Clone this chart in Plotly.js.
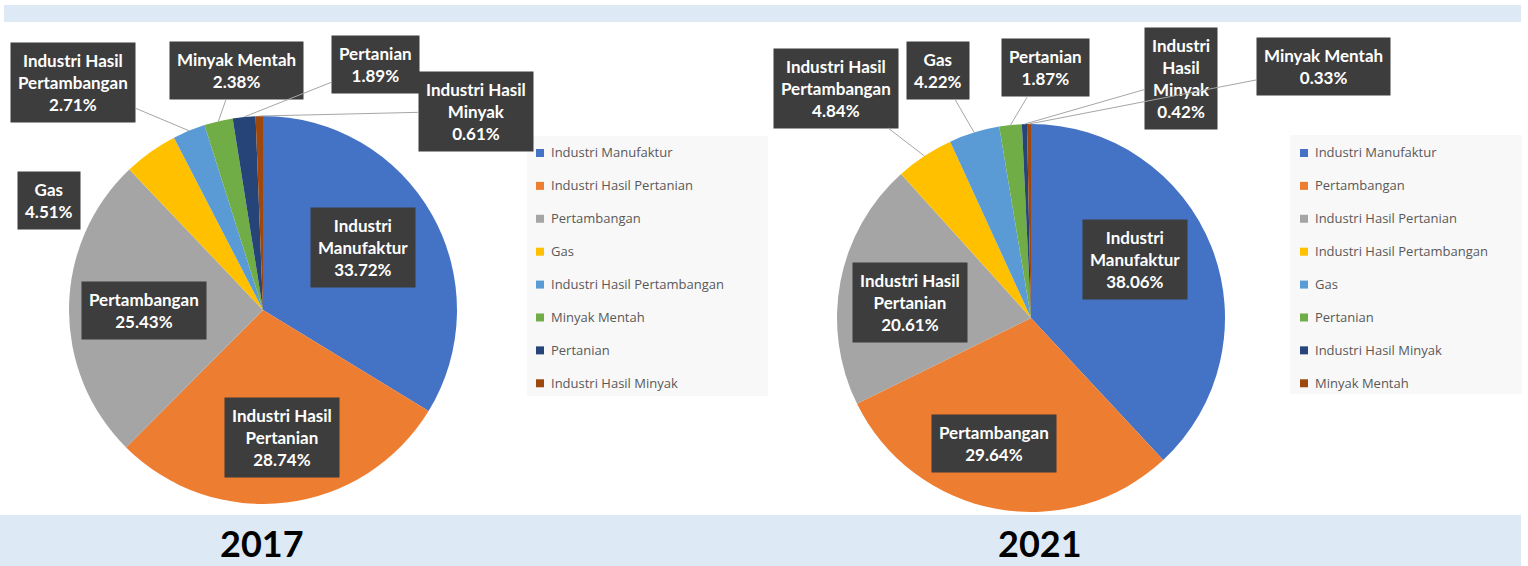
<!DOCTYPE html>
<html><head><meta charset="utf-8">
<script src="https://cdn.plot.ly/plotly-3.0.1.min.js"></script>
<style>
html,body{margin:0;padding:0;background:#fff;}
#chart{width:1528px;height:566px;}
path.legendpie{ d: path("M13,4H5V-4H13Z"); }
</style></head><body><div id="chart"></div>
<script>
// ---------- DATA ----------
const years = ['2017', '2021'];
const categories2017 = ['Industri Manufaktur','Industri Hasil Pertanian','Pertambangan','Gas','Industri Hasil Pertambangan','Minyak Mentah','Pertanian','Industri Hasil Minyak'];
const values2017 = [33.72, 28.74, 25.43, 4.51, 2.71, 2.38, 1.89, 0.61];
const categories2021 = ['Industri Manufaktur','Pertambangan','Industri Hasil Pertanian','Industri Hasil Pertambangan','Gas','Pertanian','Industri Hasil Minyak','Minyak Mentah'];
const values2021 = [38.06, 29.64, 20.61, 4.84, 4.22, 1.87, 0.42, 0.33];

// ---------- STYLE ----------
const W = 1528, H = 566;
const sliceColors = ['#4472C4','#ED7D31','#A5A5A5','#FFC000','#5B9BD5','#70AD47','#264478','#9E480E'];
const pies = [{cx:263, cy:310, r:194}, {cx:1031, cy:318, r:194}];
// label display: wrapped name, box centre (px), leader line?
const labelStyle2017 = [
  {name:'Industri<br>Manufaktur', bx:363, by:247, arrow:false},
  {name:'Industri Hasil<br>Pertanian', bx:282, by:438, arrow:false},
  {name:'Pertambangan', bx:144, by:310, arrow:false},
  {name:'Gas', bx:49, by:200, arrow:false},
  {name:'Industri Hasil<br>Pertambangan', bx:73, by:82, arrow:true},
  {name:'Minyak Mentah', bx:236, by:71, arrow:true},
  {name:'Pertanian', bx:375, by:65, arrow:true},
  {name:'Industri Hasil<br>Minyak', bx:476, by:111, arrow:true}
];
const labelStyle2021 = [
  {name:'Industri<br>Manufaktur', bx:1135, by:260, arrow:false},
  {name:'Pertambangan', bx:994, by:443, arrow:false},
  {name:'Industri Hasil<br>Pertanian', bx:910, by:302, arrow:false},
  {name:'Industri Hasil<br>Pertambangan', bx:836, by:88, arrow:true},
  {name:'Gas', bx:938, by:70, arrow:true},
  {name:'Pertanian', bx:1045, by:67, arrow:true},
  {name:'Industri<br>Hasil<br>Minyak', bx:1181, by:79, arrow:true},
  {name:'Minyak Mentah', bx:1323, by:67, arrow:true}
];

function domainOf(p){
  return {x:[(p.cx-p.r)/W, (p.cx+p.r)/W], y:[(H-p.cy-p.r)/H, (H-p.cy+p.r)/H]};
}
function legendLabel(c){ return '<span style="font-size:13px">' + c + '</span><br>\u00a0'; }

const traces = [
  {type:'pie', labels:categories2017.map(legendLabel), values:values2017, sort:false, direction:'clockwise', rotation:0,
   marker:{colors:sliceColors, line:{width:0}}, textinfo:'none', hoverinfo:'skip', domain:domainOf(pies[0]),
   legend:'legend', legendgroup:'g2017'},
  {type:'pie', labels:categories2021.map(legendLabel), values:values2021, sort:false, direction:'clockwise', rotation:0,
   marker:{colors:sliceColors, line:{width:0}}, textinfo:'none', hoverinfo:'skip', domain:domainOf(pies[1]),
   legend:'legend2', legendgroup:'g2021'}
];

function edgePoint(values, i, p){
  const tot = values.reduce((a,b)=>a+b,0);
  let cum = 0; for(let k=0;k<i;k++) cum += values[k];
  const a = (cum + values[i]/2)/tot * 2*Math.PI;
  return [p.cx + p.r*Math.sin(a), p.cy - p.r*Math.cos(a)];
}

const annotations = [];
function addLabels(values, styles, p){
  values.forEach((v,i)=>{
    const s = styles[i];
    const text = s.name + '<br>' + v.toFixed(2) + '%';
    const base = {text:text, xref:'paper', yref:'paper', bgcolor:'#3d3d3d', borderpad:7,
      font:{family:'Lato, "Open Sans", sans-serif', size:17, color:'#ffffff', weight:'bold'}, align:'center'};
    if(s.arrow){
      const t = edgePoint(values, i, p);
      annotations.push(Object.assign(base, {x:t[0]/W, y:1-t[1]/H, showarrow:true, arrowhead:0, arrowwidth:1,
        arrowcolor:'#a6a6a6', standoff:0, ax:s.bx-t[0], ay:s.by-t[1]}));
    } else {
      annotations.push(Object.assign(base, {x:s.bx/W, y:1-s.by/H, showarrow:false, xanchor:'center', yanchor:'middle'}));
    }
  });
}
addLabels(values2017, labelStyle2017, pies[0]);
addLabels(values2021, labelStyle2021, pies[1]);

const yearPos = [262, 1040];
years.forEach((y,i)=>{
  annotations.push({text:y, xref:'paper', yref:'paper', x:yearPos[i]/W, y:1-543/H, showarrow:false,
    xanchor:'center', yanchor:'middle', font:{family:'Lato, sans-serif', size:36, color:'#000', weight:'bold'}});
});

function rectPx(x0,y0,x1,y1,color){
  return {type:'rect', xref:'paper', yref:'paper', x0:x0/W, x1:x1/W, y0:1-y1/H, y1:1-y0/H,
    fillcolor:color, line:{width:0}, layer:'below'};
}
const shapes = [
  rectPx(4,5,1521,22,'#dde9f5'),
  rectPx(0,515,1521,566,'#dde9f5'),
  rectPx(527,136,768,396,'#f8f8f8'),
  rectPx(1290,135,1522,394,'#f8f8f8')
];

const legendCommon = {xanchor:'left', yanchor:'top', bgcolor:'rgba(0,0,0,0)', borderwidth:0, valign:'top',
  font:{family:'"Open Sans", sans-serif', size:11.5, color:'#595959'}, traceorder:'normal'};
const layout = {
  width:W, height:H, margin:{l:0,r:0,t:0,b:0}, paper_bgcolor:'#ffffff', plot_bgcolor:'#ffffff',
  showlegend:true,
  legend:Object.assign({}, legendCommon, {x:511/W, y:1-139/H}),
  legend2:Object.assign({}, legendCommon, {x:1275/W, y:1-139/H}),
  annotations:annotations, shapes:shapes
};
Plotly.newPlot('chart', traces, layout, {displayModeBar:false, staticPlot:true});
</script></body></html>
